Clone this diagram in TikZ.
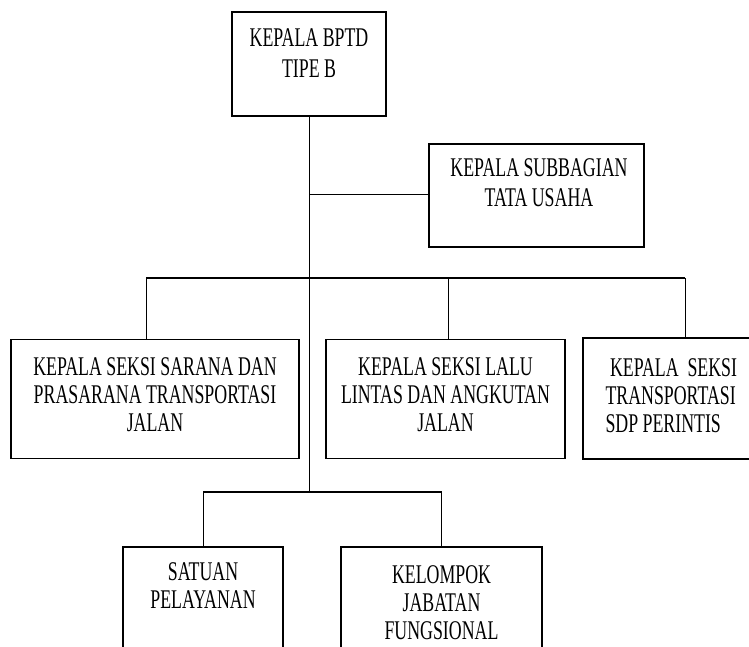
\documentclass[tikz,border=0pt]{standalone}
\usepackage{fontspec}
\setmainfont{Liberation Serif}[FakeStretch=0.66]
\usetikzlibrary{positioning}
\tikzset{
  kotak/.style={draw,line width=1.3pt,inner sep=0pt},
  teks/.style={inner sep=0pt,align=center,font=\fontsize{27}{28}\selectfont},
  garis/.style={line width=1pt}
}
\begin{document}
\begin{tikzpicture}[x=1pt,y=-1pt]
  \useasboundingbox (0,0) rectangle (749,646);
  \clip (0,0) rectangle (749,646);
  % kotak
  \node[kotak,minimum width=154pt,minimum height=104pt] (kepala) at (309,64) {};
  \node[kotak,minimum width=215pt,minimum height=103pt] (tu) at (536.5,195.5) {};
  \node[kotak,minimum width=288pt,minimum height=119pt] (sarana) at (155,399) {};
  \node[kotak,minimum width=239pt,minimum height=119pt] (lalin) at (445.5,399) {};
  \node[kotak,minimum width=204pt,minimum height=121pt] (sdp) at (685,398.5) {};
  \node[kotak,minimum width=160pt,minimum height=113pt] (satuan) at (203,603.5) {};
  \node[kotak,minimum width=201pt,minimum height=113pt] (kelompok) at (441.5,603.5) {};
  % teks
  \node[teks,font=\fontsize{27}{31}\selectfont,below=17pt of kepala.north] (tKepala) {KEPALA BPTD\\TIPE B};
  \node[teks,font=\fontsize{27}{30}\selectfont,below=15pt of tu.north,xshift=2.5pt] (tTu) {KEPALA SUBBAGIAN\\TATA USAHA};
  \node[teks,below=19pt of sarana.north] (tSarana) {KEPALA SEKSI SARANA DAN\\PRASARANA TRANSPORTASI\\JALAN};
  \node[teks,below=19pt of lalin.north] (tLalin) {KEPALA SEKSI LALU\\LINTAS DAN ANGKUTAN\\JALAN};
  \node[teks,align=left,anchor=north west] (tSdp) at ([xshift=23pt,yshift=-21pt]sdp.north west) {\ KEPALA\ \ SEKSI\\TRANSPORTASI\\SDP PERINTIS};
  \node[teks,below=16pt of satuan.north] (tSatuan) {SATUAN\\PELAYANAN};
  \node[teks,below=19pt of kelompok.north] (tKelompok) {KELOMPOK\\JABATAN\\FUNGSIONAL};
  % garis
  \coordinate (jTu) at (309,194);
  \coordinate (jSeksi) at (309,278);
  \coordinate (jBawah) at (309,492);
  \draw[garis] (kepala.south) -- (jBawah);
  \draw[garis] (jTu) -- (jTu -| tu.west);
  \draw[line width=1.6pt] ([xshift=-9pt]sarana.north |- jSeksi) -- (sdp.north |- jSeksi);
  \draw[garis] ([xshift=-9pt]sarana.north |- jSeksi) -- ([xshift=-9pt]sarana.north);
  \draw[garis] ([xshift=2.5pt]lalin.north |- jSeksi) -- ([xshift=2.5pt]lalin.north);
  \draw[garis] (sdp.north |- jSeksi) -- (sdp.north);
  \draw[line width=1.3pt] (satuan.north |- jBawah) -- (kelompok.north |- jBawah);
  \draw[garis] (satuan.north |- jBawah) -- (satuan.north);
  \draw[garis] (kelompok.north |- jBawah) -- (kelompok.north);
\end{tikzpicture}
\end{document}
